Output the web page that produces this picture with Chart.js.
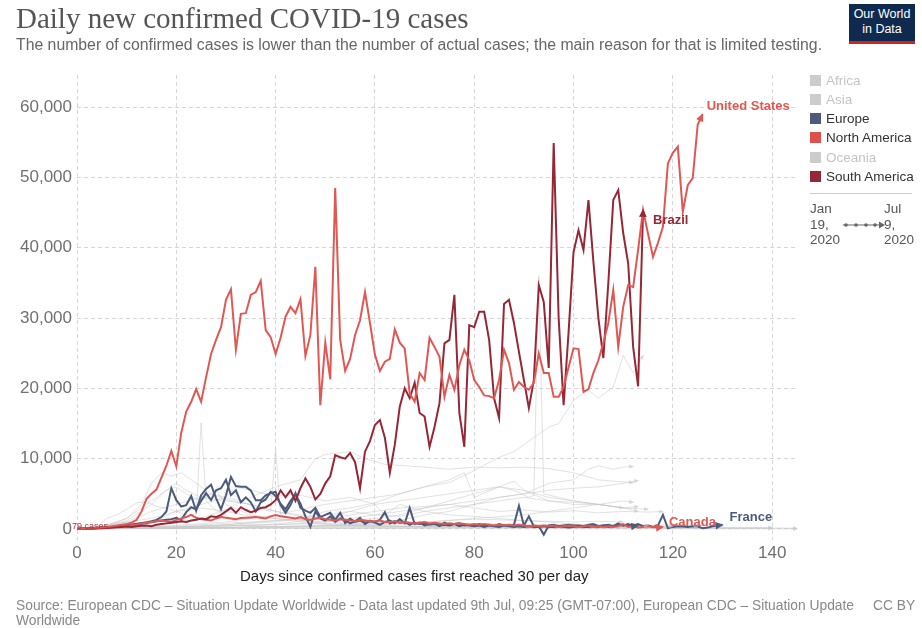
<!DOCTYPE html>
<html>
<head>
<meta charset="utf-8">
<script src="https://cdn.jsdelivr.net/npm/chart.js@4.4.0/dist/chart.umd.min.js"></script>
<style>
  body { margin: 0; width: 922px; height: 628px; overflow: hidden; background: #fff; font-family: "Liberation Sans", Arial, sans-serif; }
  #wrap { position: absolute; left: 0; top: 0; width: 922px; height: 628px; }
  .t { position: absolute; white-space: nowrap; }
  #title { left: 16px; top: 2px; font-family: "Liberation Serif", serif; font-size: 29px; color: #555; }
  #subtitle { left: 16px; top: 36px; font-size: 15.8px; color: #666; }
  #logo { position: absolute; left: 849px; top: 4px; width: 66px; height: 40px; background: #0f2a4e; border-bottom: 3px solid #ce261e;
          color: #fff; font-family: "Liberation Sans Narrow", "Liberation Sans", sans-serif; font-size: 12.5px; line-height: 15px; text-align: center; padding-top: 3px; box-sizing: border-box; }
  .leg { position: absolute; left: 810px; font-size: 13.5px; line-height: 16px; color: #333; }
  .leg i { display: inline-block; width: 11px; height: 11px; margin-right: 5px; vertical-align: -1px; }
  .off { color: #c4c4c4; }
  #sep { position: absolute; left: 810px; top: 193px; width: 102px; border-top: 1px solid #ccc; }
  .tl { position: absolute; top: 201px; font-size: 13.5px; line-height: 15.5px; color: #555; }
  #xtitle { left: 240px; top: 567px; font-size: 15px; color: #222; }
  #source { left: 16px; top: 598px; font-size: 13.8px; line-height: 15px; color: #888; white-space: normal; width: 852px; }
  #cc { left: 873px; top: 598px; font-size: 13.8px; color: #888; }
</style>
</head>
<body>
<div id="wrap"><canvas id="grafico" width="922" height="628"></canvas></div>
<div class="t" id="title">Daily new confirmed COVID-19 cases</div>
<div class="t" id="subtitle">The number of confirmed cases is lower than the number of actual cases; the main reason for that is limited testing.</div>
<div id="logo">Our World<br>in Data</div>

<div class="leg off" style="top:73px"><i style="background:#ccc"></i>Africa</div>
<div class="leg off" style="top:92px"><i style="background:#ccc"></i>Asia</div>
<div class="leg" style="top:111px"><i style="background:#4c5b7d"></i>Europe</div>
<div class="leg" style="top:130px"><i style="background:#df4f4c"></i>North America</div>
<div class="leg off" style="top:150px"><i style="background:#ccc"></i>Oceania</div>
<div class="leg" style="top:169px"><i style="background:#952737"></i>South America</div>
<div id="sep"></div>
<div class="tl" style="left:810px">Jan<br>19,<br>2020</div>
<div class="tl" style="left:884px">Jul<br>9,<br>2020</div>
<svg style="position:absolute;left:842px;top:220px" width="44" height="10">
  <line x1="1" y1="5" x2="38" y2="5" stroke="#666" stroke-width="1.2"/>
  <circle cx="4" cy="5" r="1.8" fill="#666"/><circle cx="14" cy="5" r="1.8" fill="#666"/>
  <circle cx="24" cy="5" r="1.8" fill="#666"/><circle cx="33" cy="5" r="1.8" fill="#666"/>
  <polygon points="37,1.5 43,5 37,8.5" fill="#666"/>
</svg>

<div class="t" id="xtitle">Days since confirmed cases first reached 30 per day</div>
<div class="t" id="source">Source: European CDC – Situation Update Worldwide - Data last updated 9th Jul, 09:25 (GMT-07:00), European CDC – Situation Update Worldwide</div>
<div class="t" id="cc">CC BY</div>

<script>
var xTicks = [0, 20, 40, 60, 80, 100, 120, 140];
var yTicks = [0, 10000, 20000, 30000, 40000, 50000, 60000];

// daily values, index = days since 30 cases per day
var usCases = [30, 50, 80, 100, 150, 200, 300, 400, 500, 600, 700, 900, 1300,
  2500, 4300, 5000, 5600, 7300, 9000, 11100, 8900,
  13700, 16700, 18100, 19900, 18100, 21600, 24900, 26900, 28700, 32600,
  34100, 25500, 30600, 30700, 33300, 33700, 35300, 28300, 27300, 24900,
  27200, 30200, 31600, 30700, 32700, 24600, 27600, 37300, 17600, 26500,
  21300, 48500, 26900, 22500, 24200, 27600, 29700, 33700, 29300, 24800,
  22500, 23800, 24200, 28400, 26500, 25700, 19300, 18100, 22200, 21200,
  27200, 25900, 24500, 18800, 21900, 19800, 23300, 25500, 24000, 21200,
  20200, 19000, 18900, 18600, 21200, 25500, 23600, 19800, 20900, 20200,
  19800, 20800, 25000, 22200, 22200, 18800, 18800, 20200, 23000, 25700,
  25600, 19500, 19900, 22200, 24000, 26500, 29300, 34000, 25900, 31600,
  34700, 34400, 39700, 45400, 42000, 38700, 40700, 43000, 52000, 53500,
  54400, 45100, 48900, 49900, 57500, 59000];

var brazilCases = [30, 40, 50, 70, 90, 120, 150, 200, 250, 300, 350, 300, 400, 450, 500, 400, 600, 700, 800, 900, 1000, 1100, 1000, 1200, 1300,
  1500, 1400, 1800, 1700, 2000, 2500, 3000, 2300, 3100, 2700, 2400, 2600, 3000, 3100, 3500, 4100, 5500,
  4500, 5500, 4000, 5800, 7200, 6000, 4200, 5000, 6500, 7500, 10500, 10200, 10000, 10800, 9500,
  5800, 11000, 12500, 14800, 15500, 13000, 8000, 12000,
  17400, 20000, 18600, 20800, 16500, 16000, 11700, 14500, 17900, 26400,
  26900, 33300, 16500, 11700, 29000, 28700, 30900, 30900, 26900, 18600,
  15800, 32000, 32600, 29300, 25200, 21200, 17200, 21200, 34700, 32300,
  22900, 54900, 30000, 17600, 28000, 39400, 42500, 39700, 46800, 38000,
  30000, 24300, 35000, 46800, 48200, 42100, 37800, 25900, 20300, 45400];

var canadaCases = [30, 40, 60, 80, 100, 140, 180, 230, 300, 380, 450, 550, 650,
  800, 900, 1000, 1100, 1200, 1100, 1000,
  1300, 1500, 1700, 2000, 1600, 1400, 1300, 1200, 1500, 1700, 1600, 1500, 1400, 1550, 1600, 1650, 1700, 1600, 1500, 1800,
  2000, 1800, 1700, 1600, 1500, 1700, 1400, 1300, 1500, 1600, 1400, 1300, 1200, 1400, 1300, 1200, 1100, 1300, 1200, 1100,
  1100, 1200, 1000, 1000, 1100, 900, 1000, 900, 800, 900, 1000, 800, 900, 800, 700, 800, 700, 800, 700, 600,
  700, 600, 700, 600, 500, 600, 500, 600, 500, 600, 500, 400, 500, 400, 500, 400, 500, 300, 400, 500,
  400, 300, 400, 500, 300, 400, 300, 400, 300, 400, 700, 300, 400, 200, 300, 400, 300, 200, 300];

var franceCases = [30, 40, 60, 90, 120, 160, 200, 260, 320, 400, 480, 560, 650, 750, 850, 950, 1100, 1200,
  1300, 1400, 1600, 1300, 2400, 3100, 2800, 4000, 5100, 4100,
  5500, 5800, 7000, 4800, 5500, 3800, 4500, 3800, 2500, 3800,
  4200, 5300, 4700, 3600, 2800, 4000, 4900, 3600, 1800, 300,
  2500, 1500, 1200, 1800, 1000, 1500, 1300, 800, 1100, 1600,
  700, 1200, 900, 600, 1000, 1200, 800, 1400, 800, 3000,
  700, 900, 500, 700, 800, 400, 900, 600, 700, 800,
  500, 600, 400, 700, 500, 600, 400, 700, 500, 500,
  600, 3300, 500, 1800, 400, 400, -800, 500, 600, 400,
  500, 600, 500, 500, 400, 600, 700, 400, 500, 600,
  400, 800, 500, 600, 500, 700, 400, 500, 300, 500,
  2000, 100, 300, 400, 350, 300, 400, 350, 100, 200, 400, 500, 600];

var europeOtherCases = [30, 60, 90, 120, 150, 200, 250, 300, 380, 450, 550, 650, 750, 850, 950, 1100, 1300, 1700,
  2500, 5800, 4100, 3200, 3400, 4700, 2600, 4800, 5700, 6300,
  4400, 2800, 4800, 7400, 6100, 6000, 6000, 5500, 4100, 4100,
  4800, 5100, 5300, 3400, 2300, 3400, 5100, 3000, 2600, 2300,
  3000, 1700, 2000, 2300, 1300, 2300, 850, 1500, 1000, 1200,
  900, 1100, 1000, 1300, 2400, 800, 1100, 900, 1000, 600, 900, 700,
  800, 600, 700, 500, 600, 500, 700, 400, 600, 500,
  400, 500, 300, 500, 400, 300, 500, 400, 300, 400,
  300, 400, 300, 300, 400, 300, 300, 400, 300, 200,
  300, 400, 300, 300, 400, 300, 500, 300, 400, 600,
  500, 700, 400, 500];

// other countries (grey), [day, cases]
var indiaCases = [[0,30],[10,80],[20,300],[30,600],[40,1200],[45,1500],[50,2500],[55,3000],[60,3700],[65,5000],[70,6000],[75,6600],[80,8300],[85,10200],[88,11000],[92,13000],[95,14500],[97,15000],[100,18300],[103,19800],[105,18600],[108,20200],[110,24700],[112,22200],[114,24700]];
var russiaCases = [[0,30],[8,150],[15,500],[20,800],[25,1500],[30,2800],[35,4500],[40,6000],[45,7000],[48,10000],[50,10600],[55,11000],[58,10000],[62,9200],[66,9000],[70,8800],[75,8500],[80,8800],[85,8700],[90,8800],[95,8600],[100,8000],[105,7000],[108,6800],[112,6600]];
var chileCases = [[0,30],[20,400],[30,800],[40,1200],[50,1500],[55,2500],[60,3500],[65,4000],[70,4500],[75,5000],[80,5500],[85,6000],[88,5500],[91,4500],[92,4800],[93,36000],[94,5000],[97,4500],[100,4000],[105,3500],[110,3000],[115,2800]];
var mexicoCases = [[0,30],[20,200],[30,400],[40,700],[50,1500],[55,2000],[60,2500],[65,3000],[70,3200],[75,3500],[80,4000],[85,4500],[90,5000],[95,5500],[100,5800],[105,6000],[110,6500],[113,6900]];
var spainCases = [[0,30],[5,300],[10,1500],[13,3500],[15,6500],[17,8000],[19,7500],[21,8000],[23,7000],[25,6000],[27,5000],[30,4500],[33,4000],[36,3000],[39,2500],[40,11500],[41,2000],[44,1500],[48,800],[52,500],[56,400],[60,300],[70,400],[80,300],[90,200],[100,400],[110,500],[120,600],[130,400]];
var italyCases = [[0,30],[5,300],[10,1200],[15,3500],[18,5500],[20,6500],[22,5500],[25,4500],[28,4200],[30,4000],[35,3500],[40,2500],[45,1800],[50,1200],[55,700],[60,500],[70,300],[80,250],[90,200],[100,200],[110,200],[120,150],[130,180],[140,200]];
var chinaCases = [[0,30],[2,100],[4,300],[6,1500],[8,2000],[10,2800],[12,3700],[14,3900],[16,3200],[18,3000],[20,2500],[22,2000],[24,2100],[25,15100],[26,4000],[28,2600],[30,2000],[32,900],[34,500],[38,300],[45,100],[60,50],[80,40],[100,30],[120,20],[140,20],[145,10]];
var ukCases = [[0,30],[10,400],[15,1000],[20,2500],[25,3500],[30,4500],[32,6000],[35,5500],[38,5000],[40,4500],[42,5000],[45,4800],[50,4000],[55,4500],[60,3500],[62,2000],[65,3500],[70,2500],[75,2000],[80,1800],[85,1500],[90,1200],[95,1000],[100,700],[105,600],[110,500],[115,400],[118,300]];
var germanyCases = [[0,30],[5,300],[10,1500],[15,4000],[18,5500],[20,6000],[22,5000],[25,4000],[28,5500],[30,3500],[35,2000],[40,1500],[45,1000],[50,800],[55,500],[60,400],[70,300],[80,400],[90,500],[100,400],[110,300],[120,400]];
var iranCases = [[0,30],[5,500],[10,1000],[15,1500],[20,2500],[25,3000],[30,2500],[35,1800],[40,1500],[45,1200],[50,1000],[55,1500],[60,2000],[65,2500],[70,3000],[75,3500],[80,3000],[85,2500],[90,2700],[95,2400],[100,2600],[105,2300],[110,2500],[115,2400],[118,2500]];
var pakistanCases = [[0,30],[20,300],[40,600],[50,1000],[60,1500],[65,2000],[70,3000],[75,4000],[80,5000],[85,6000],[88,6800],[90,5500],[95,4500],[100,4000],[105,3500],[110,3000],[113,2500]];
var saudiCases = [[0,30],[20,200],[30,600],[40,1000],[45,1500],[50,2000],[55,2500],[60,2000],[65,1800],[70,2500],[75,3000],[80,3500],[85,4000],[90,4500],[95,4000],[100,3800],[105,3500],[110,3000],[113,3200]];
var southAfricaCases = [[0,30],[20,100],[30,200],[40,300],[50,500],[60,800],[65,1200],[70,2000],[75,2500],[80,3500],[85,4500],[90,5000],[95,6500],[100,7000],[103,8500],[105,9000],[108,8500],[110,8800],[112,8900]];
var colombiaCases = [[0,30],[30,200],[50,400],[60,600],[70,1000],[80,1500],[90,2000],[100,3000],[105,3500],[110,4000],[112,3800]];
var turkeyCases = [[0,30],[5,300],[10,1000],[15,2500],[20,3500],[25,4500],[27,5000],[30,4200],[35,3500],[40,2500],[45,2000],[50,1500],[55,1000],[60,900],[65,1000],[70,900],[75,1200],[80,1400],[85,1300],[90,1200],[95,1100],[100,1000],[105,1100],[110,1000]];
var peruCases = [[0,30],[20,500],[30,1000],[40,2000],[50,3500],[55,4000],[60,4500],[65,5000],[70,6000],[75,7000],[78,8000],[80,4500],[85,6000],[90,5500],[95,4000],[100,3500],[105,3500],[110,3000]];
var lowA = [[0,30],[20,150],[40,300],[60,400],[80,300],[100,250],[120,200],[140,150],[145,100]];
var lowB = [[0,30],[15,100],[30,250],[50,500],[70,600],[90,500],[110,400],[125,300]];
var lowC = [[0,30],[10,60],[30,120],[50,200],[70,250],[90,300],[110,350],[118,300]];
var lowD = [[0,30],[25,400],[45,700],[65,800],[85,700],[105,600],[115,500]];
var lowE = [[0,30],[20,50],[40,100],[60,150],[80,200],[100,150],[120,100],[140,80]];

var greyCountries = [indiaCases, russiaCases, chileCases, mexicoCases, spainCases, italyCases, chinaCases, ukCases,
  germanyCases, iranCases, pakistanCases, saudiCases, southAfricaCases, colombiaCases, turkeyCases, peruCases,
  lowA, lowB, lowC, lowD, lowE];

var northAmerica = "#df5853";
var southAmerica = "#952737";
var europe = "#4c5b7d";
var grey = "rgba(200,200,200,0.6)";

function daily(values) {
    return values.map(function (v, i) { return { x: i, y: v }; });
}

function serie(name, values, color, extra) {
    var ds = { label: name, data: daily(values), borderColor: color, borderWidth: 2, arrowSize: 7 };
    return Object.assign(ds, extra || {});
}

var datasets = [
    serie("United States", usCases, northAmerica, { endLabel: "United States", dx: 4, dy: -8 }),
    serie("Brazil", brazilCases, southAmerica, { endLabel: "Brazil", dx: 10, dy: 11 }),
    serie("Canada", canadaCases, northAmerica, { endLabel: "Canada", dx: 6, dy: -4 }),
    serie("France", franceCases, europe, { endLabel: "France", dx: 7, dy: -7 }),
    serie("Europe", europeOtherCases, europe, {})
];
greyCountries.forEach(function (c, i) {
    datasets.push({
        label: "other " + i,
        data: c.map(function (p) { return { x: p[0], y: p[1] }; }),
        borderColor: grey, borderWidth: 0.9, arrowSize: 4
    });
});

// arrow heads at the end of every line, plus labels
var endLabels = {
    id: "endLabels",
    afterDatasetsDraw: function (chart) {
        var ctx = chart.ctx;
        for (var i = chart.data.datasets.length - 1; i >= 0; i--) {
            var ds = chart.data.datasets[i];
            var pts = chart.getDatasetMeta(i).data;
            var a = pts[pts.length - 2], b = pts[pts.length - 1];
            var ang = Math.atan2(b.y - a.y, b.x - a.x);
            var s = ds.arrowSize;
            ctx.save();
            ctx.fillStyle = ds.borderColor;
            ctx.translate(b.x, b.y);
            ctx.rotate(ang);
            ctx.beginPath();
            ctx.moveTo(1, 0);
            ctx.lineTo(-s, -s * 0.55);
            ctx.lineTo(-s, s * 0.55);
            ctx.closePath();
            ctx.fill();
            ctx.restore();
            if (ds.endLabel) {
                ctx.save();
                ctx.font = "bold 13px 'Liberation Sans', Arial";
                ctx.fillStyle = ds.borderColor;
                ctx.textBaseline = "middle";
                ctx.fillText(ds.endLabel, b.x + ds.dx, b.y + ds.dy);
                ctx.restore();
            }
        }
        var x0 = chart.scales.x.getPixelForValue(0);
        var y0 = chart.scales.y.getPixelForValue(0);
        ctx.save();
        ctx.font = "9px 'Liberation Sans', Arial";
        ctx.fillStyle = "#a8343f";
        ctx.textBaseline = "alphabetic";
        ctx.fillText("79 cases", x0 - 5, y0);
        ctx.restore();
    }
};

var config = {
    type: "line",
    data: { datasets: datasets },
    options: {
        responsive: false,
        animation: false,
        layout: { padding: { left: 0, right: 125, top: 75, bottom: 58 } },
        elements: { point: { radius: 0 }, line: { tension: 0 } },
        plugins: { legend: { display: false }, tooltip: { enabled: false } },
        scales: {
            x: {
                type: "linear", min: 0, max: 145,
                afterBuildTicks: function (axis) { axis.ticks = xTicks.map(function (v) { return { value: v }; }); },
                afterFit: function (axis) { axis.height = 30; },
                grid: { color: "#d6d6d6", drawTicks: false, tickLength: 0 },
                border: { display: false, dash: [4, 3] },
                ticks: { color: "#707070", font: { size: 17, family: "'Liberation Sans', Arial" }, padding: 3, maxRotation: 0 }
            },
            y: {
                type: "linear", min: -1565, max: 64580,
                afterBuildTicks: function (axis) { axis.ticks = yTicks.map(function (v) { return { value: v }; }); },
                afterFit: function (axis) { axis.width = 77; },
                grid: { color: "#d6d6d6", drawTicks: false, tickLength: 0 },
                border: { display: false, dash: [4, 3] },
                ticks: {
                    color: "#707070", font: { size: 17, family: "'Liberation Sans', Arial" }, padding: 5,
                    callback: function (v) { return v.toLocaleString("en-US"); }
                }
            }
        }
    },
    plugins: [endLabels]
};

var canvasElement = document.getElementById("grafico");
var grafico = new Chart(canvasElement, config);
</script>
</body>
</html>
